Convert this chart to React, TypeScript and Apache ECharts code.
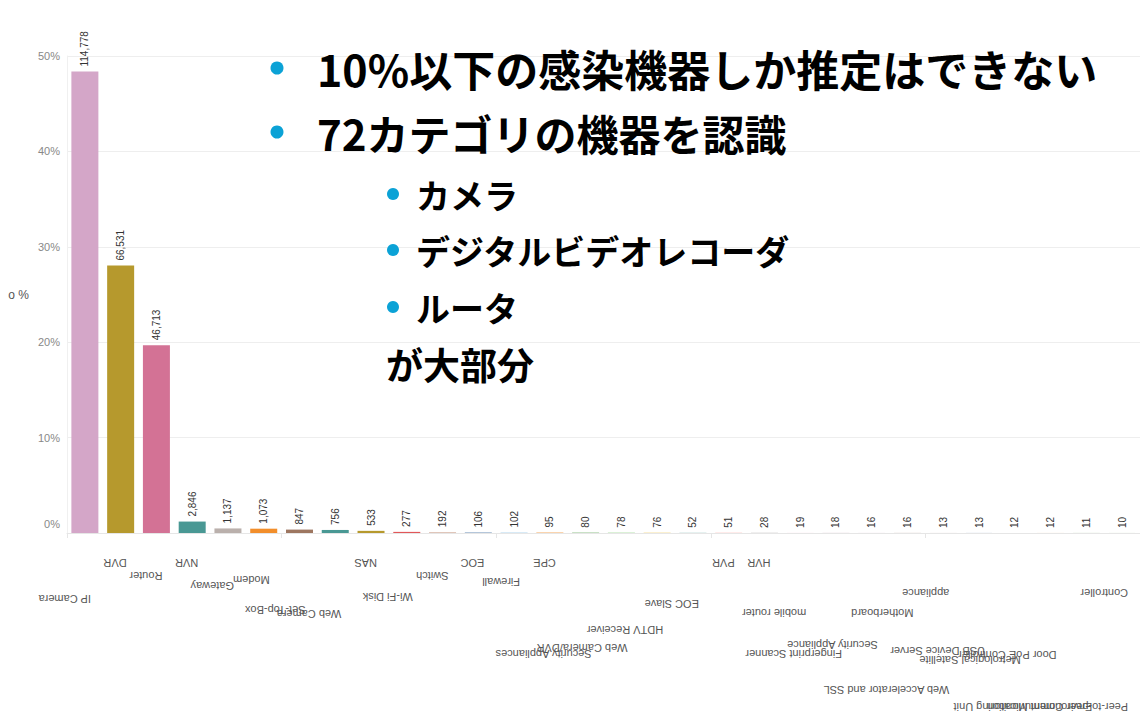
import React, { useEffect, useRef } from 'react';
import * as echarts from 'echarts';

// ---- data ----
const categories = [
  'IP Camera', 'DVR', 'Router', 'NVR', 'Gateway', 'Modem', 'Set-Top-Box', 'Web Camera',
  'NAS', 'Wi-Fi Disk', 'Switch', 'EOC', 'Firewall', 'CPE', 'Security Appliances',
  'Web Camera/DVR', 'HDTV Receiver', 'EOC Slave', 'PVR', 'HVR', 'mobile router',
  'Fingerprint Scanner', 'Security Appliance', 'Motherboard', 'appliance',
  'USB Device Server', 'Metrological Satellite', 'Door PoE Controller',
  'Environment Monitoring Unit', 'Controller',
];
const deviceCounts = [
  114778, 66531, 46713, 2846, 1137, 1073, 847, 756, 533, 277, 192, 106, 102, 95, 80,
  78, 76, 52, 51, 28, 19, 18, 16, 16, 13, 13, 12, 12, 11, 10,
];
// estimated total of all identified devices (share of total = bar height)
const totalDevices = 237300;
const extraLabelIndex = [24, 29];
const extraLabelText = ['Web Accelerator and SSL', 'Peer-to-peer Communication'];
const yTickLabels = ['0%', '10%', '20%', '30%', '40%', '50%'];

const headlineLines = ['10%以下の感染機器しか推定はできない', '72カテゴリの機器を認識'];
const subItems = ['カメラ', 'デジタルビデオレコーダ', 'ルータ'];
const closingLine = 'が大部分';

// ---- styles / layout ----
const barColors = [
  '#d4a6c8', '#b6992d', '#d37295', '#499894', '#bab0ac', '#f28e2b', '#9d7660', '#499894',
  '#b6992d', '#e15759', '#d7b5a6', '#4e79a7', '#a0cbe8', '#f28e2b', '#59a14f', '#8cd17d',
  '#f1ce63', '#86bcb6', '#ff9d9a', '#79706e', '#fabfd2', '#b07aa1', '#d4a6c8', '#9d7660',
  '#d7b5a6', '#4e79a7', '#a0cbe8', '#ffbe7d', '#59a14f', '#8cd17d',
];
// vertical drop (px) of each upside-down category label below the axis
const labelDrop = [
  66, 30, 43, 30, 53, 47, 77, 81, 30, 64, 43, 30, 49, 30, 121, 115, 97, 71, 30, 30,
  80, 121, 112, 80, 60, 118, 127, 122, 174, 60,
];
const extraLabelDrop = [157, 174];
const headFont = [43, 42];

export default function App() {
  const ref = useRef<HTMLDivElement>(null);

  useEffect(() => {
    if (!ref.current) return;
    const chart = echarts.init(ref.current, null, { renderer: 'svg' });

    const shares = deviceCounts.map((c) => (c / totalDevices) * 100);

    const labelItems: any[] = categories.map((name, i) => ({
      value: [i, 0],
      name,
      drop: labelDrop[i],
    }));
    extraLabelIndex.forEach((idx, k) => {
      labelItems.push({ value: [idx, 0], name: extraLabelText[k], drop: extraLabelDrop[k] });
    });

    const graphics: any[] = [];
    const headY = [68, 132];
    headlineLines.forEach((t, i) => {
      graphics.push({
        type: 'circle',
        shape: { cx: 277, cy: headY[i], r: 6.5 },
        style: { fill: '#0ba2d6' },
        z: 100,
      });
      graphics.push({
        type: 'text',
        x: 317,
        y: headY[i],
        z: 100,
        style: {
          text: t,
          fill: '#000',
          font: `bold ${headFont[i]}px "Noto Sans CJK JP"`,
          align: 'left',
          verticalAlign: 'middle',
        },
      });
    });
    const subY = [194, 250, 307];
    subItems.forEach((t, i) => {
      graphics.push({
        type: 'circle',
        shape: { cx: 393, cy: subY[i], r: 6 },
        style: { fill: '#0ba2d6' },
        z: 100,
      });
      graphics.push({
        type: 'text',
        x: 416,
        y: subY[i],
        z: 100,
        style: {
          text: t,
          fill: '#000',
          font: 'bold 34px "Noto Sans CJK JP"',
          align: 'left',
          verticalAlign: 'middle',
        },
      });
    });
    graphics.push({
      type: 'text',
      x: 386,
      y: 364,
      z: 100,
      style: {
        text: closingLine,
        fill: '#000',
        font: 'bold 37px "Noto Sans CJK JP"',
        align: 'left',
        verticalAlign: 'middle',
      },
    });

    chart.setOption({
      animation: false,
      backgroundColor: '#ffffff',
      grid: { left: 67, top: 56, width: 1076, height: 477, containLabel: false },
      xAxis: {
        type: 'category',
        data: categories,
        axisLine: { show: true, lineStyle: { color: '#e6e6e6' } },
        axisTick: { show: true, length: 5, lineStyle: { color: '#e6e6e6' } },
        axisLabel: { show: false },
        splitLine: { show: false },
      },
      yAxis: {
        type: 'value',
        min: 0,
        max: 50,
        interval: 10,
        name: 'o %',
        nameLocation: 'middle',
        nameRotate: 0,
        nameGap: 38,
        nameTextStyle: { color: '#555', fontSize: 12, fontFamily: 'Arial' },
        axisLine: { show: true, lineStyle: { color: '#f0f0f0' } },
        axisTick: { show: false },
        splitLine: { show: true, lineStyle: { color: '#eeeeee' } },
        axisLabel: {
          color: '#888',
          fontSize: 11,
          fontFamily: 'Arial',
          margin: 7,
          formatter: (v: number) => {
            const t = yTickLabels[Math.round(v / 10)] ?? `${v}%`;
            return v === 0 ? `{z|${t}}` : t;
          },
          rich: {
            z: { color: '#888', fontSize: 11, fontFamily: 'Arial', padding: [0, 0, 18, 0] },
          },
        },
      },
      series: [
        {
          type: 'bar',
          barWidth: 27,
          data: shares.map((v, i) => ({ value: v, itemStyle: { color: barColors[i] } })),
          label: {
            show: true,
            position: 'top',
            rotate: 90,
            align: 'left',
            verticalAlign: 'middle',
            distance: 5,
            color: '#333',
            fontSize: 10,
            fontFamily: 'Arial',
            formatter: (p: any) => deviceCounts[p.dataIndex].toLocaleString('en-US'),
          },
        },
        {
          type: 'custom',
          clip: false,
          silent: true,
          encode: { x: 0, y: 1 },
          data: labelItems,
          renderItem: (params: any, api: any) => {
            const item = labelItems[params.dataIndex];
            const p = api.coord([api.value(0), 0]);
            return {
              type: 'text',
              x: p[0] + 6,
              y: p[1] + item.drop,
              rotation: Math.PI,
              style: {
                text: item.name,
                fill: '#555',
                font: '11px Arial',
                align: 'left',
                verticalAlign: 'middle',
              },
            };
          },
        },
      ],
      graphic: graphics,
    });

    return () => chart.dispose();
  }, []);

  return (
    <div
      ref={ref}
      style={{ position: 'absolute', left: 0, top: 0, width: 1140, height: 713 }}
    />
  );
}
